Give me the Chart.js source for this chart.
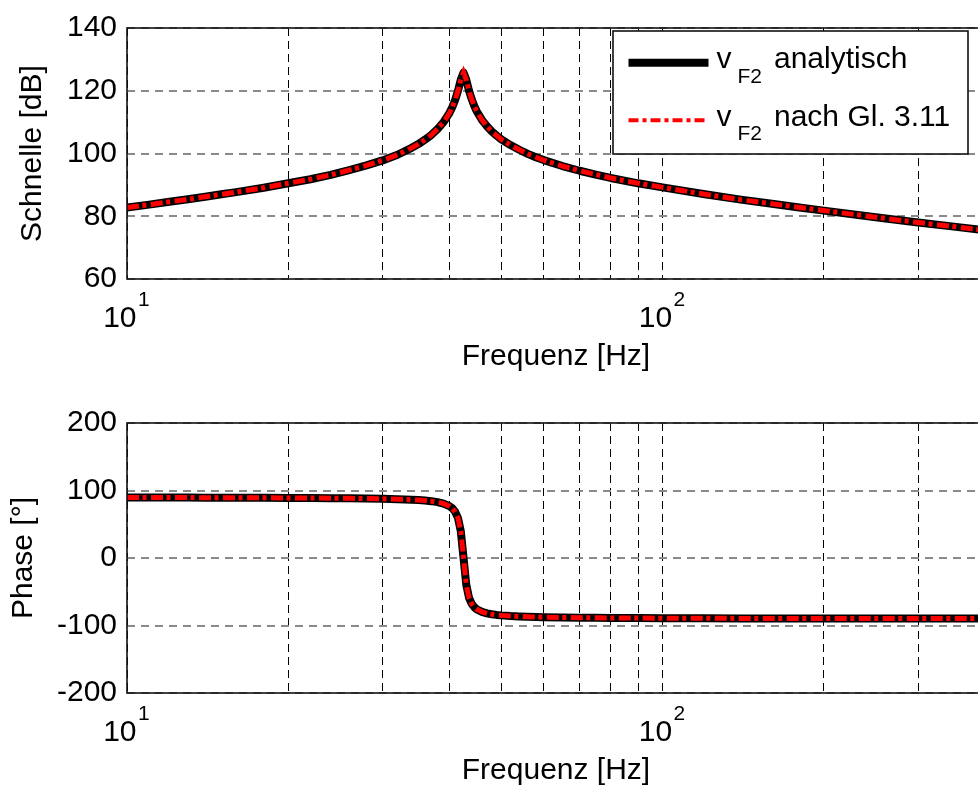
<!DOCTYPE html>
<html><head><meta charset="utf-8">
<script src="https://cdn.jsdelivr.net/npm/chart.js@4.4.1/dist/chart.umd.min.js"></script>
<style>
html,body{margin:0;padding:0;background:#fff;overflow:hidden;width:978px;height:791px;position:relative;}
#c1{position:absolute;left:0;top:0;}
#c2{position:absolute;left:0;top:395px;}
</style></head><body>
<canvas id="c1" width="1000" height="395"></canvas>
<canvas id="c2" width="1000" height="396"></canvas>
<script>
// ---- data ----
const freqHz = [10,11,12,13,14,15,16,18,20,22,24,26,28,30,32,34,35,36,37,38,39,40,40.5,41,41.5,42,42.5,43,43.5,44,44.5,45,46,47,48,49,50,52,54,56,58,60,65,70,75,80,90,100,120,140,160,180,200,250,300,350,400];
const magnitudeDb = [82.8,83.7,84.6,85.4,86.2,87.0,87.7,89.1,90.5,91.8,93.2,94.7,96.2,97.8,99.6,101.8,103.0,104.4,105.9,107.8,110.0,112.9,114.8,117.1,120.0,123.5,125.8,123.5,120.1,117.4,115.2,113.4,110.7,108.7,107.0,105.7,104.5,102.7,101.2,99.9,98.8,97.9,96.0,94.5,93.3,92.2,90.5,89.2,87.0,85.3,84.0,82.8,81.8,79.7,78.0,76.7,75.5];
const phaseDeg = [89.6,89.5,89.5,89.5,89.4,89.3,89.3,89.2,89.0,88.8,88.6,88.4,88.1,87.7,87.2,86.4,85.8,85.1,84.2,82.8,80.6,76.8,73.6,68.4,59.2,39.8,0,-39.5,-58.6,-67.7,-72.8,-76.1,-79.8,-82.0,-83.4,-84.3,-85.0,-86.0,-86.6,-87.1,-87.4,-87.7,-88.1,-88.4,-88.6,-88.8,-89.0,-89.2,-89.3,-89.5,-89.5,-89.6,-89.6,-89.7,-89.8,-89.8,-89.8];
const xGridTicks = [10,20,30,40,50,60,70,80,90,100,200,300,400];
const xDecades = [10, 100];
const xDecadeExponents = ['1', '2'];
const xRange = [10, 400];
const magRange = [60, 140, 20];
const phaseRange = [-200, 200, 100];
const legendLabels = ['analytisch', 'nach Gl. 3.11'];
const legendSymbol = 'v';
const legendSub = 'F2';
const titles = {x: 'Frequenz [Hz]', mag: 'Schnelle [dB]', phase: 'Phase [°]'};

const FONT = '"Liberation Sans", Arial, Helvetica, sans-serif';
Chart.defaults.font.family = FONT;
Chart.defaults.font.size = 30;
Chart.defaults.color = '#000';

const pts = (ys) => freqHz.map((f, i) => ({x: f, y: ys[i]}));

function datasets(ys) {
  return [
    {label: legendLabels[0], data: pts(ys), borderColor: '#000', borderWidth: 8, pointRadius: 0,
     borderJoinStyle: 'round', borderCapStyle: 'round', tension: 0, order: 2},
    {label: legendLabels[1], data: pts(ys), borderColor: '#ff0000', borderWidth: 5, pointRadius: 0,
     borderDash: [12, 3.5, 4, 4.5], borderCapStyle: 'butt', tension: 0, order: 1}
  ];
}

const framePlugin = {
  id: 'frame',
  afterDraw(chart) {
    const {ctx, chartArea: a} = chart;
    ctx.save();
    ctx.strokeStyle = '#111';
    ctx.lineWidth = 1.6;
    ctx.strokeRect(a.left, a.top, a.right - a.left, a.bottom - a.top);
    const xs = chart.scales.x;
    ctx.fillStyle = '#000';
    ctx.textBaseline = 'alphabetic';
    xDecades.forEach((v, i) => {
      const px = xs.getPixelForValue(v);
      ctx.font = '30px ' + FONT;
      ctx.textAlign = 'right';
      ctx.fillText('10', px + 9.5, a.bottom + 48.3);
      ctx.font = '21px ' + FONT;
      ctx.textAlign = 'left';
      ctx.fillText(xDecadeExponents[i], px + 11, a.bottom + 27.3);
    });
    ctx.restore();
  }
};

const legendPlugin = {
  id: 'boxLegend',
  afterDraw(chart) {
    const ctx = chart.ctx;
    ctx.save();
    ctx.fillStyle = '#fff';
    ctx.fillRect(613, 31, 355, 123);
    ctx.strokeStyle = '#111';
    ctx.lineWidth = 1.6;
    ctx.strokeRect(613, 31, 355, 123);
    const ds = chart.data.datasets;
    const rows = [62.8, 120.3];
    const widths = [8, 4];
    const dashes = [[], [10, 4, 4, 4]];
    rows.forEach((y, i) => {
      ctx.beginPath();
      ctx.setLineDash(dashes[i]);
      ctx.lineCap = 'butt';
      ctx.strokeStyle = ds[i].borderColor;
      ctx.lineWidth = widths[i];
      ctx.moveTo(628.5, y);
      ctx.lineTo(708.5, y);
      ctx.stroke();
    });
    ctx.setLineDash([]);
    ctx.fillStyle = '#000';
    ctx.textAlign = 'left';
    ctx.textBaseline = 'alphabetic';
    const base = [68.3, 126.3];
    const subBase = [82.7, 140.3];
    base.forEach((b, i) => {
      ctx.font = '30px ' + FONT;
      ctx.fillText(legendSymbol, 716.5, b);
      ctx.fillText(legendLabels[i], 774, b);
      ctx.font = '21px ' + FONT;
      ctx.fillText(legendSub, 737.5, subBase[i]);
    });
    ctx.restore();
  }
};

function makeOptions(yRange, yTitle, yTitlePad, xTitlePad, xHeight, padTop) {
  return {
    responsive: false,
    animation: false,
    events: [],
    layout: {padding: {left: 0, right: 15, top: padTop, bottom: 0}},
    plugins: {legend: {display: false}, tooltip: {enabled: false}},
    scales: {
      x: {
        type: 'logarithmic', min: xRange[0], max: xRange[1],
        ticks: {display: false},
        afterBuildTicks(s) { s.ticks = xGridTicks.map(v => ({value: v})); },
        grid: {color: '#000', lineWidth: 1, drawTicks: false},
        border: {display: false, dash: [8, 5]},
        title: {display: true, text: titles.x, font: {size: 30}, padding: {top: 0, bottom: xTitlePad}},
        afterFit(s) { s.height = xHeight; }
      },
      y: {
        type: 'linear', min: yRange[0], max: yRange[1],
        ticks: {stepSize: yRange[2], padding: 10, font: {size: 30}, color: '#000'},
        grid: {color: '#8a8a8a', lineWidth: 2, drawTicks: false},
        border: {display: false, dash: [8, 6]},
        title: {display: true, text: yTitle, font: {size: 30}, padding: {top: yTitlePad, bottom: 0}},
        afterFit(s) { s.width = 127; }
      }
    }
  };
}

new Chart(document.getElementById('c1'), {
  type: 'line',
  data: {datasets: datasets(magnitudeDb)},
  options: makeOptions(magRange, titles.mag, 14.6, 20.4, 116, 23),
  plugins: [framePlugin, legendPlugin]
});

new Chart(document.getElementById('c2'), {
  type: 'line',
  data: {datasets: datasets(phaseDeg)},
  options: makeOptions(phaseRange, titles.phase, 6.1, 2.4, 98, 22),
  plugins: [framePlugin]
});
</script>
</body></html>
